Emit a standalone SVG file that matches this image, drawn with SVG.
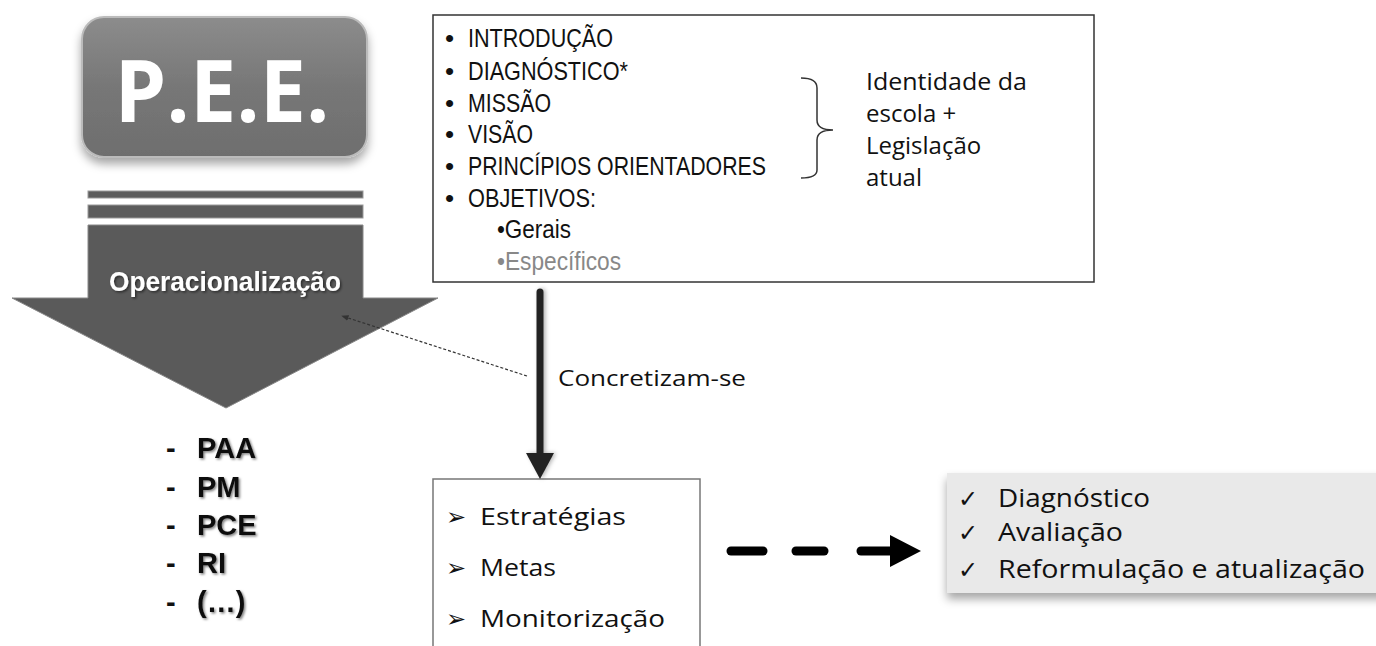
<svg xmlns="http://www.w3.org/2000/svg" width="1376" height="646" viewBox="0 0 1376 646">
<defs>
<filter id="sh" x="-20%" y="-20%" width="140%" height="160%"><feDropShadow dx="0" dy="6" stdDeviation="5" flood-color="#000" flood-opacity="0.35"/></filter>
<filter id="tsh" x="-10%" y="-20%" width="120%" height="150%"><feDropShadow dx="1.5" dy="1.5" stdDeviation="1" flood-color="#000" flood-opacity="0.5"/></filter>
<filter id="lsh" x="-50%" y="-5%" width="200%" height="110%"><feDropShadow dx="2" dy="0" stdDeviation="2" flood-color="#000" flood-opacity="0.3"/></filter>
<linearGradient id="pg" x1="0" y1="0" x2="0" y2="1"><stop offset="0" stop-color="#8c8c8c"/><stop offset="0.5" stop-color="#777"/><stop offset="1" stop-color="#6e6e6e"/></linearGradient>
<marker id="dot" viewBox="0 0 10 10" refX="9" refY="5" markerWidth="6" markerHeight="6" orient="auto-start-reverse"><path d="M0,1 L10,5 L0,9 z" fill="#333"/></marker>
</defs>
<style>
.lst{font-family:"Liberation Sans",Arial,sans-serif;font-size:26px;fill:#111}
.hum{font-family:"Open Sans","DejaVu Sans",sans-serif;fill:#111}
.bld{font-family:"Liberation Sans",Arial,sans-serif;font-weight:bold;font-size:29px;fill:#111}
</style>
<rect width="1376" height="646" fill="#fff"/>

<g id="pee">
<rect x="82" y="17" width="285" height="140" rx="22" fill="url(#pg)" stroke="#bbb" stroke-width="2" filter="url(#sh)"/>
<text x="222" y="122" text-anchor="middle" font-family="'Open Sans','DejaVu Sans',sans-serif" font-weight="bold" font-size="86" fill="#fff" textLength="215" lengthAdjust="spacingAndGlyphs">P.E.E.</text>
</g>

<g id="operacionalizacao">
<rect x="88" y="191" width="275" height="7" fill="#5c5c5c" stroke="#999" stroke-width="1"/>
<rect x="88" y="205" width="275" height="13" fill="#5c5c5c" stroke="#999" stroke-width="1"/>
<path d="M88,225 L363,225 L363,298 L438,298 L226,408 L12,298 L88,298 Z" fill="#5a5a5a" stroke="#888" stroke-width="1"/>
<text x="225" y="291" text-anchor="middle" font-family="'Liberation Sans',Arial,sans-serif" font-weight="bold" font-size="27" fill="#fff" filter="url(#tsh)" textLength="232" lengthAdjust="spacingAndGlyphs">Operacionalização</text>
</g>

<g id="documentos">
<text class="bld" x="166" y="458">-</text><text class="bld" x="197" y="458" filter="url(#tsh)">PAA</text>
<text class="bld" x="166" y="497">-</text><text class="bld" x="197" y="497" filter="url(#tsh)">PM</text>
<text class="bld" x="166" y="535">-</text><text class="bld" x="197" y="535" filter="url(#tsh)">PCE</text>
<text class="bld" x="166" y="573">-</text><text class="bld" x="197" y="573" filter="url(#tsh)">RI</text>
<text class="bld" x="166" y="612">-</text><text class="bld" x="197" y="612" filter="url(#tsh)">(…)</text>
</g>

<g id="estrutura">
<rect x="433" y="15" width="661" height="267" fill="#fff" stroke="#333" stroke-width="1.5"/>
<text class="lst" x="445" y="47">•</text><text class="lst" x="468" y="47" textLength="145" lengthAdjust="spacingAndGlyphs">INTRODUÇÃO</text>
<text class="lst" x="445" y="80">•</text><text class="lst" x="468" y="80" textLength="160" lengthAdjust="spacingAndGlyphs">DIAGNÓSTICO*</text>
<text class="lst" x="445" y="112">•</text><text class="lst" x="468" y="112" textLength="83" lengthAdjust="spacingAndGlyphs">MISSÃO</text>
<text class="lst" x="445" y="143">•</text><text class="lst" x="468" y="143" textLength="65" lengthAdjust="spacingAndGlyphs">VISÃO</text>
<text class="lst" x="445" y="175">•</text><text class="lst" x="468" y="175" textLength="298" lengthAdjust="spacingAndGlyphs">PRINCÍPIOS ORIENTADORES</text>
<text class="lst" x="445" y="207">•</text><text class="lst" x="468" y="207" textLength="128" lengthAdjust="spacingAndGlyphs">OBJETIVOS:</text>
<text class="lst" x="497" y="238" textLength="74" lengthAdjust="spacingAndGlyphs">•Gerais</text>
<text class="lst" x="497" y="270" style="fill:#888" textLength="124" lengthAdjust="spacingAndGlyphs">•Específicos</text>
<path d="M801,78 Q817,78 817,88 L817,120 Q817,130 833,130 Q817,130 817,140 L817,170 Q817,178 801,178" fill="none" stroke="#333" stroke-width="1.5"/>
<text class="hum" font-size="24" x="866" y="90" textLength="161" lengthAdjust="spacingAndGlyphs">Identidade da</text>
<text class="hum" font-size="24" x="866" y="122">escola +</text>
<text class="hum" font-size="24" x="866" y="154">Legislação</text>
<text class="hum" font-size="24" x="866" y="186">atual</text>
</g>

<g id="estrategias">
<rect x="433" y="479" width="267" height="180" fill="#fff" stroke="#777" stroke-width="1.5"/>
<text class="hum" font-size="24" x="446" y="525">➢</text><text class="hum" font-size="24" x="480" y="525" textLength="146" lengthAdjust="spacingAndGlyphs">Estratégias</text>
<text class="hum" font-size="24" x="446" y="576">➢</text><text class="hum" font-size="24" x="480" y="576" textLength="76" lengthAdjust="spacingAndGlyphs">Metas</text>
<text class="hum" font-size="24" x="446" y="627">➢</text><text class="hum" font-size="24" x="480" y="627" textLength="185" lengthAdjust="spacingAndGlyphs">Monitorização</text>
</g>

<g id="avaliacao">
<rect x="947" y="473" width="440" height="120" fill="#e9e9e9" filter="url(#sh)"/>
<text class="hum" font-size="24" x="958" y="507">✓</text><text class="hum" font-size="25" x="998" y="507" textLength="152" lengthAdjust="spacingAndGlyphs">Diagnóstico</text>
<text class="hum" font-size="24" x="958" y="541">✓</text><text class="hum" font-size="25" x="998" y="541" textLength="125" lengthAdjust="spacingAndGlyphs">Avaliação</text>
<text class="hum" font-size="24" x="958" y="578">✓</text><text class="hum" font-size="25" x="998" y="578" textLength="367" lengthAdjust="spacingAndGlyphs">Reformulação e atualização</text>
</g>

<g id="connectors">
<g filter="url(#lsh)">
<line x1="540" y1="292" x2="540" y2="458" stroke="#222" stroke-width="7" stroke-linecap="round"/>
<path d="M526,453 L554,453 L540,479 Z" fill="#222"/>
</g>
<text class="hum" font-size="22" x="558" y="386" textLength="188" lengthAdjust="spacingAndGlyphs">Concretizam-se</text>
<line x1="527" y1="376" x2="342" y2="316" stroke="#333" stroke-width="1.2" stroke-dasharray="3,2" marker-end="url(#dot)"/>
<g stroke="#000" stroke-width="9" stroke-linecap="round">
<line x1="731" y1="551" x2="763" y2="551"/>
<line x1="796" y1="551" x2="824" y2="551"/>
<line x1="861" y1="551" x2="892" y2="551"/>
</g>
<path d="M890,535 L921,551 L890,567 Z" fill="#000"/>
</g>
</svg>
